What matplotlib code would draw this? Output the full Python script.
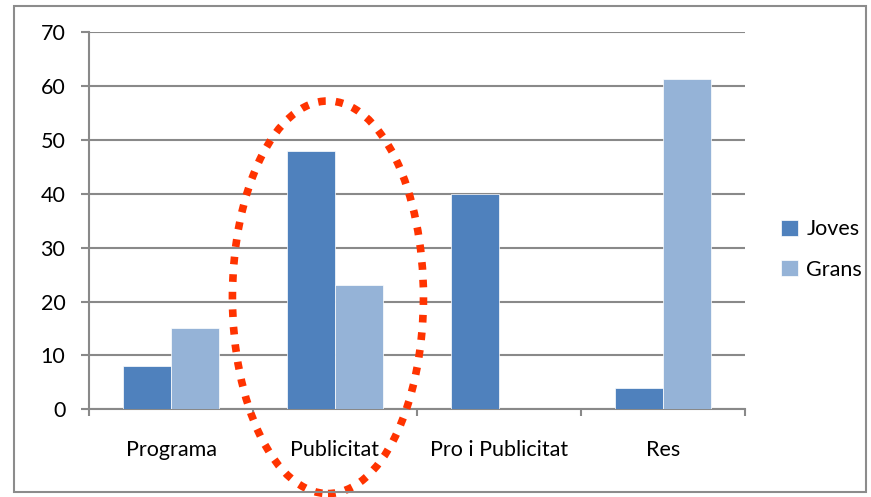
import numpy as np
import matplotlib.pyplot as plt
from matplotlib.patches import Ellipse, Rectangle

# data
categories = ["Programa", "Publicitat", "Pro i Publicitat", "Res"]
joves = [8, 48, 40, 4]
grans = [15.1, 23, 0, 61.3]
yticks = [0, 10, 20, 30, 40, 50, 60, 70]

JOVES_COLOR = "#4F81BD"
GRANS_COLOR = "#95B3D7"
GRID_COLOR = "#898989"
FS = 15.5

plt.rcParams['font.family'] = ['Lato', 'DejaVu Sans']

fig = plt.figure(figsize=(8.71, 4.97), dpi=100)
ax = fig.add_axes([0.1022, 0.1765, 0.7531, 0.7585])

x = np.arange(len(categories))
w = 0.29
ax.bar(x - w / 2, joves, w, color=JOVES_COLOR, edgecolor="white", linewidth=0.5, label="Joves", zorder=3)
ax.bar(x + w / 2, grans, w, color=GRANS_COLOR, edgecolor="white", linewidth=0.5, label="Grans", zorder=3)

ax.set_xlim(-0.5, len(categories) - 0.5)
ax.set_ylim(0, 70)
ax.set_yticks(yticks)
ax.yaxis.grid(True, color=GRID_COLOR, linewidth=1.5, zorder=0)

# boundaries get the tick marks, labels sit at the centres
ax.set_xticks(np.arange(len(categories) + 1) - 0.5)
ax.set_xticklabels([])
ax.set_xticks(x, minor=True)
ax.set_xticklabels(categories, minor=True)
ax.tick_params(axis="x", which="major", length=5, width=1.5, color=GRID_COLOR, direction="out")
ax.tick_params(axis="x", which="minor", length=0, pad=22, labelsize=FS)
ax.tick_params(axis="y", length=6, width=1.5, color=GRID_COLOR, pad=11, labelsize=FS)

for s in ["top", "right"]:
    ax.spines[s].set_visible(False)
for s in ["left", "bottom"]:
    ax.spines[s].set_color(GRID_COLOR)
    ax.spines[s].set_linewidth(1.5)

# highlight ring around the Publicitat group
ring = Ellipse((0.957, 20.8), 1.165, 72.9, fill=False, edgecolor="#FF3300",
               linewidth=5.5, linestyle=(0, (1, 1.3)), clip_on=False, zorder=5)
ax.add_patch(ring)

# legend at the right
fig.legend(loc="center left", bbox_to_anchor=(0.874, 0.498), frameon=False,
           fontsize=FS, handlelength=0.8, handleheight=0.8, labelspacing=0.95,
           handletextpad=0.4)

# outer chart frame
fig.patches.append(Rectangle((14 / 871, 1 - 491.5 / 497), 852 / 871, 485.5 / 497,
                             transform=fig.transFigure, fill=False,
                             edgecolor="#8C8C8C", linewidth=1.5, zorder=0))

fig.savefig("out.png", dpi=100)
